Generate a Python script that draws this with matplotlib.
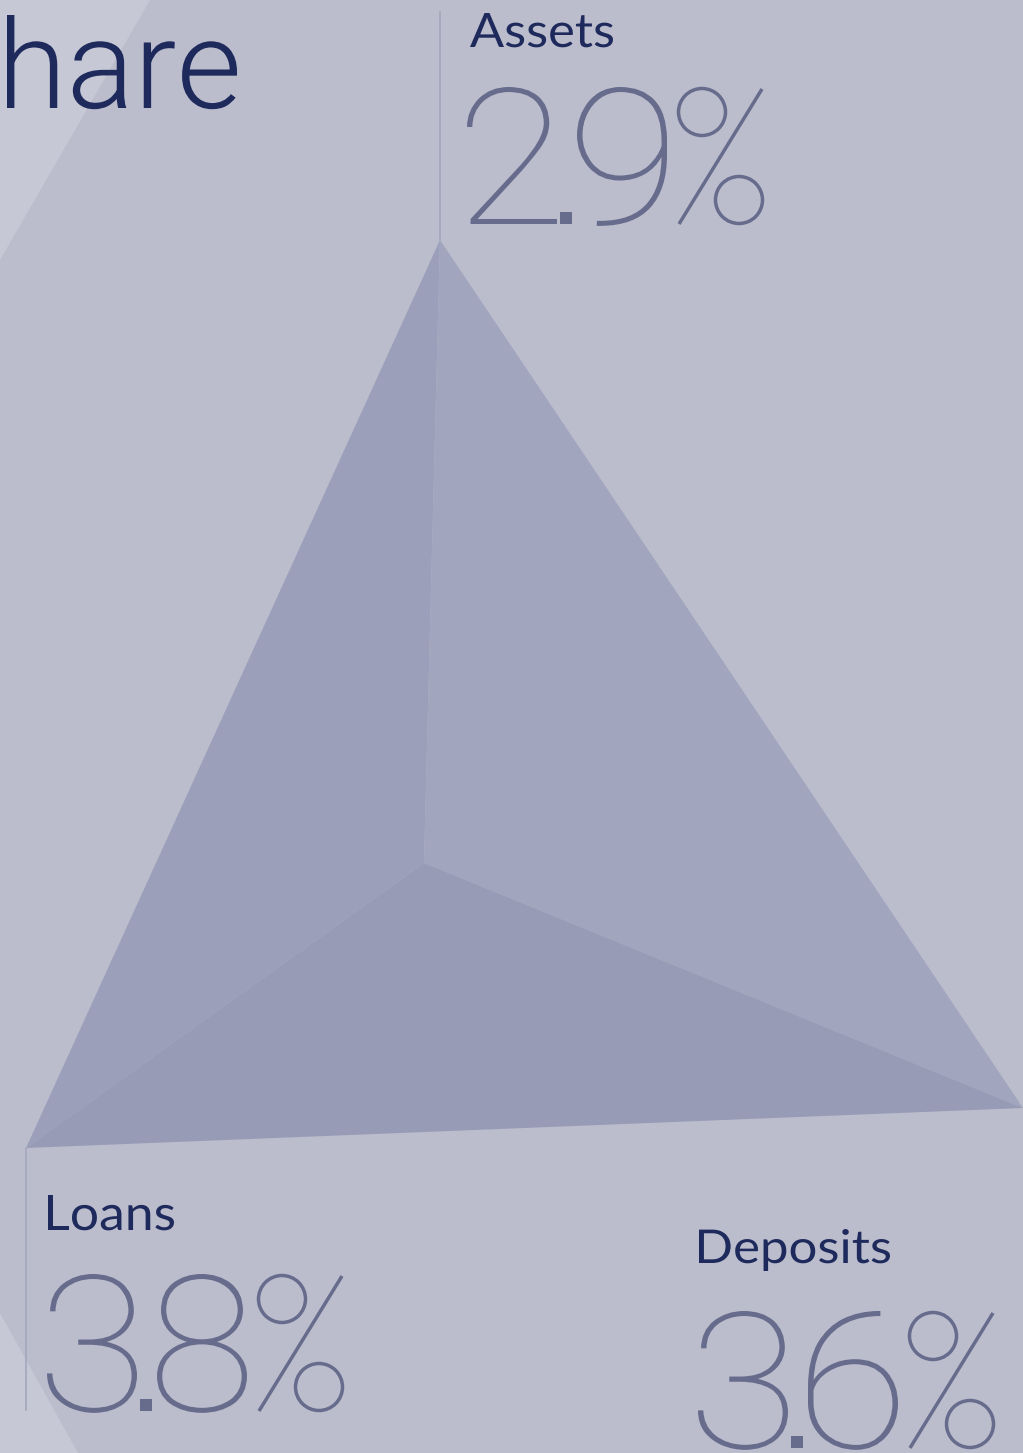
import matplotlib
matplotlib.use('Agg')
import matplotlib.pyplot as plt
from matplotlib.patches import Polygon, PathPatch, Circle, Rectangle
from matplotlib.textpath import TextPath
from matplotlib.font_manager import FontProperties
from matplotlib.transforms import Affine2D

W, H = 1023, 1453
DPI = 100

# data
LABELS = ['Assets', 'Loans', 'Deposits']
VALUES = [2.9, 3.8, 3.6]
TITLE_FRAGMENT = 'hare'

# layout (pixel coords, y down)
APEX = {'Assets': (440, 240), 'Loans': (26, 1148), 'Deposits': (1023, 1108)}
CENTER = (424, 863)
# label box: left, baseline, cap height, width
LABEL_BOX = {'Assets': (470, 47, 34, 143), 'Loans': (48, 1230, 35, 126),
             'Deposits': (699, 1263, 34, 191)}
# value: left, baseline
VALUE_POS = {'Assets': (467, 224), 'Loans': (47, 1411), 'Deposits': (698, 1448)}

BG = '#bbbdcd'
BAND = '#c6c8d5'
NAVY = '#1f2a5c'
NUM = '#676b8c'
FACE = {'left': '#9b9fb9', 'right': '#a1a5be', 'bottom': '#979bb5'}

LABEL_FONT = FontProperties(family='Lato', weight='normal')
TITLE_FONT = FontProperties(family='Roboto', weight=300)
NUM_FONT = FontProperties(family='Roboto', weight=100)
STROKE = 2.5  # pt, thin numeral stroke


def fit_text(ax, s, prop, left, base, cap_h, width, color):
    tp = TextPath((0, 0), s, size=100, prop=prop)
    ext = tp.get_extents()
    k = cap_h / ext.y1
    sx = width / (ext.width * k)
    tr = Affine2D().translate(-ext.x0, 0).scale(k * sx, -k).translate(left, base)
    ax.add_patch(PathPatch(tr.transform_path(tp), fc=color, ec='none'))


def percent(ax, x, base, color):
    # thin percent sign: two rings and a long slash
    ax.add_patch(Circle((x + 25, base - 112), 23.5, fill=False, ec=color, lw=STROKE))
    ax.add_patch(Circle((x + 62, base - 24), 23.5, fill=False, ec=color, lw=STROKE))
    ax.plot([x + 2, x + 85], [base, base - 135], color=color, lw=STROKE,
            solid_capstyle='butt')


def number_text(ax, s, left, base, color, digit_h=137, digit_w=90, dot_w=12, gap=5):
    ref = TextPath((0, 0), '2', size=100, prop=NUM_FONT).get_extents()
    k = digit_h / ref.y1
    cur = left
    for ch in s:
        if ch == '%':
            percent(ax, cur + 5, base, color)
            continue
        if ch == '.':
            ax.add_patch(Rectangle((cur - 2, base - dot_w), dot_w, dot_w, fc=color, ec='none'))
            cur += dot_w + gap - 2
            continue
        tp = TextPath((0, 0), ch, size=100, prop=NUM_FONT)
        ext = tp.get_extents()
        sx = digit_w / (ext.width * k)
        tr = Affine2D().translate(-ext.x0, 0).scale(k * sx, -k).translate(cur, base)
        ax.add_patch(PathPatch(tr.transform_path(tp), fc=color, ec='none'))
        cur += digit_w + gap


fig = plt.figure(figsize=(W / DPI, H / DPI), dpi=DPI)
fig.patch.set_facecolor(BG)
ax = fig.add_axes([0, 0, 1, 1])
ax.set_xlim(0, W); ax.set_ylim(H, 0); ax.axis('off')

# lighter diagonal bands
ax.add_patch(Polygon([(0, 0), (150, 0), (0, 260)], closed=True, color=BAND, lw=0))
ax.add_patch(Polygon([(0, 1313), (78, 1453), (0, 1453)], closed=True, color=BAND, lw=0))

# pyramid faces
a, l, r = APEX['Assets'], APEX['Loans'], APEX['Deposits']
ax.add_patch(Polygon([a, CENTER, l], closed=True, color=FACE['left'], lw=0))
ax.add_patch(Polygon([a, r, CENTER], closed=True, color=FACE['right'], lw=0))
ax.add_patch(Polygon([l, CENTER, r], closed=True, color=FACE['bottom'], lw=0))

# leader lines
ax.plot([440, 440], [12, 240], color='#a4a7bd', lw=1.2)
ax.plot([26, 26], [1148, 1410], color='#a4a7bd', lw=1.2)

fit_text(ax, TITLE_FRAGMENT, TITLE_FONT, 7, 108, 93, 230, NAVY)

for lab, val in zip(LABELS, VALUES):
    x, y, ch, w = LABEL_BOX[lab]
    fit_text(ax, lab, LABEL_FONT, x, y, ch, w, NAVY)
    x, y = VALUE_POS[lab]
    number_text(ax, f'{val:.1f}%', x, y, NUM)

fig.savefig('out.png', dpi=DPI, facecolor=BG)
